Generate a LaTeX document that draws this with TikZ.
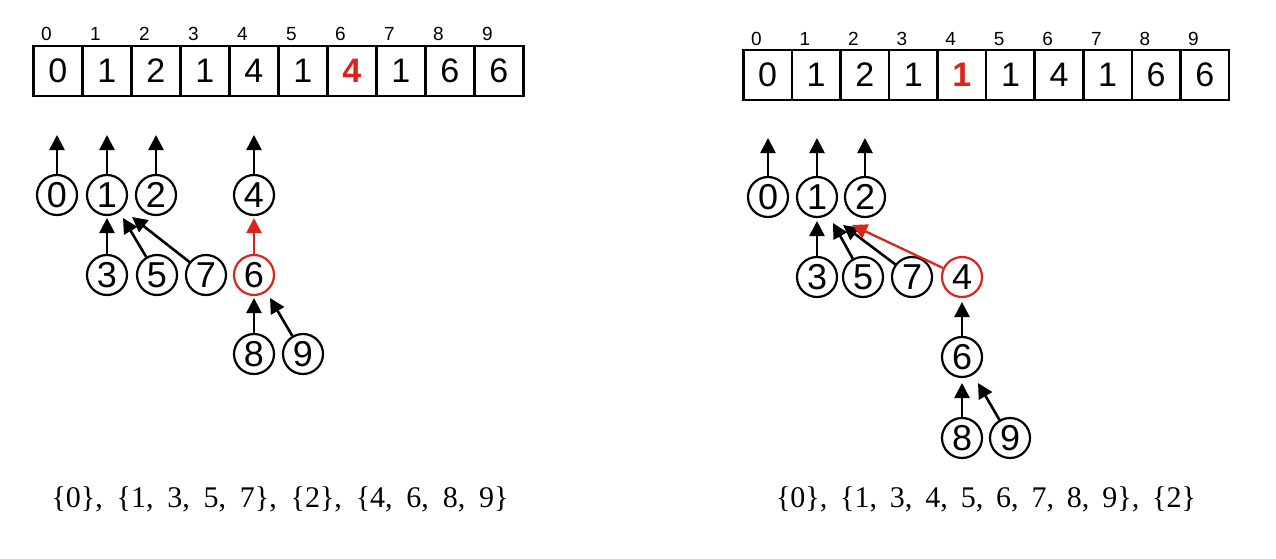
\documentclass[tikz,border=0pt]{standalone}
\usepackage{fontspec}
\setmainfont{Liberation Sans}
\newfontfamily\serifset{Liberation Serif}
\usetikzlibrary{arrows.meta,calc}
\definecolor{myred}{RGB}{218,37,29}
\begin{document}
\begin{tikzpicture}[x=1pt,y=-1pt,
  cell/.style={draw,line width=2.6pt,minimum width=49pt,minimum height=50pt,inner sep=0pt,font=\fontsize{34}{34}\selectfont},
  idx/.style={anchor=base,inner sep=0pt,font=\fontsize{19}{19}\selectfont},
  vert/.style={draw,circle,line width=2.2pt,minimum size=40pt,inner sep=0pt,font=\fontsize{36}{36}\selectfont},
  arr/.style={line width=2.6pt,-{Triangle[length=15pt,width=15pt]}},
  rarr/.style={arr,myred,line width=2.3pt},
  sets/.style={anchor=base,inner sep=0pt,font=\serifset\fontsize{30}{30}\selectfont}]
\fill[white] (0,0) rectangle (1276,559);
\useasboundingbox (0,0) rectangle (1276,559);

% ---------- left array ----------
\foreach \v [count=\k from 0] in {0,1,2,1,4,1,{\textcolor{myred}{\textbf{4}}},1,6,6} {
  \node[cell] (a\k) at ({57.8+49*\k},71) {\v};
  \node[idx] (ai\k) at ({46.3+49*\k},41) {\k};
}
% ---------- right array ----------
\foreach \v [count=\k from 0] in {0,1,2,1,{\textcolor{myred}{\textbf{1}}},1,4,1,6,6} {
  \node[cell,minimum width=48.6pt] (b\k) at ({767.6+48.57*\k},75) {\v};
  \node[idx] (bi\k) at ({756.3+48.57*\k},46) {\k};
}

% ---------- left forest ----------
\node[vert] (L0) at (57,195) {0};
\node[vert] (L1) at (107,195) {1};
\node[vert] (L2) at (156,195) {2};
\node[vert] (L4) at (254,195) {4};
\node[vert] (L3) at (107,275) {3};
\node[vert] (L5) at (157,275) {5};
\node[vert] (L7) at (206,275) {7};
\node[vert,draw=myred] (L6) at (254,275) {6};
\node[vert] (L8) at (254,354) {8};
\node[vert] (L9) at (303,354) {9};
\coordinate (tL0) at (57,135);
\coordinate (tL1) at (107,135);
\coordinate (tL2) at (156,135);
\coordinate (tL4) at (254,135);
\draw[arr] (L0) -- (tL0);
\draw[arr] (L1) -- (tL1);
\draw[arr] (L2) -- (tL2);
\draw[arr] (L4) -- (tL4);
\draw[arr] (L3) -- ($(L1)+(0,23)$);
\draw[arr] (L5) -- ($(L1)+(16,23)$);
\draw[arr] (L7) -- ($(L1)+(25,22)$);
\draw[rarr] (L6) -- ($(L4)+(0,23)$);
\draw[arr] (L8) -- ($(L6)+(0,23)$);
\draw[arr] (L9) -- ($(L6)+(16,23)$);

% ---------- right forest ----------
\node[vert] (R0) at (768,197) {0};
\node[vert] (R1) at (817,197) {1};
\node[vert] (R2) at (865,197) {2};
\node[vert] (R3) at (817,277) {3};
\node[vert] (R5) at (863,277) {5};
\node[vert] (R7) at (912,277) {7};
\node[vert,draw=myred] (R4) at (962,277) {4};
\node[vert] (R6) at (962,357) {6};
\node[vert] (R8) at (962,438) {8};
\node[vert] (R9) at (1010,438) {9};
\coordinate (tR0) at (768,138);
\coordinate (tR1) at (817,138);
\coordinate (tR2) at (865,138);
\draw[arr] (R0) -- (tR0);
\draw[arr] (R1) -- (tR1);
\draw[arr] (R2) -- (tR2);
\draw[arr] (R3) -- ($(R1)+(0,24)$);
\draw[arr] (R5) -- ($(R1)+(16,26)$);
\draw[arr] (R7) -- ($(R1)+(26,28)$);
\draw[rarr] (R4) -- ($(R1)+(35,28)$);
\draw[arr] (R6) -- ($(R4)+(0,25)$);
\draw[arr] (R8) -- ($(R6)+(0,26)$);
\draw[arr] (R9) -- ($(R6)+(16,26)$);

% ---------- set texts ----------
\node[sets] (setL) at (280,507) {\spaceskip=0.46em\relax \{0\}, \{1, 3, 5, 7\}, \{2\}, \{4, 6, 8, 9\}};
\node[sets] (setR) at (986,507) {\spaceskip=0.43em\relax \{0\}, \{1, 3, 4, 5, 6, 7, 8, 9\}, \{2\}};
\end{tikzpicture}
\end{document}
